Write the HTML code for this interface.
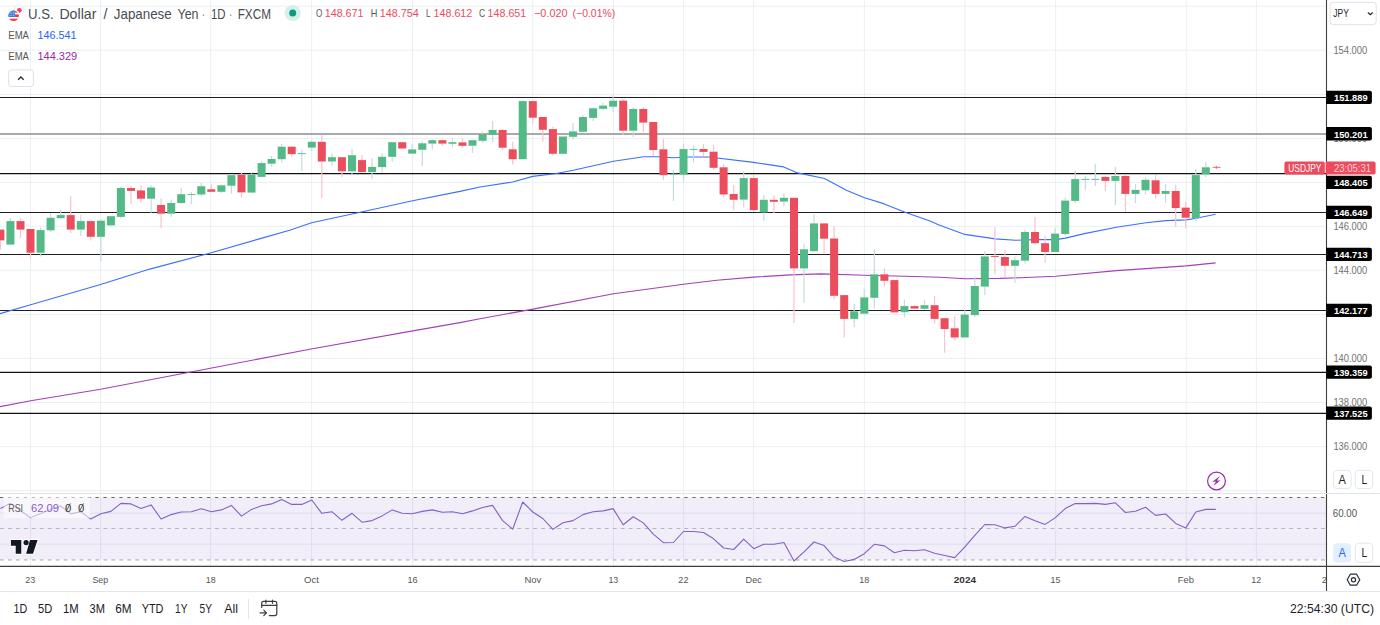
<!DOCTYPE html>
<html><head><meta charset="utf-8"><title>USDJPY chart</title>
<style>html,body{margin:0;padding:0;background:#fff;overflow:hidden}body{width:1380px;height:625px;font-family:"Liberation Sans",sans-serif}</style>
</head><body>
<svg width="1380" height="625" viewBox="0 0 1380 625" style="display:block">
<rect width="1380" height="625" fill="#fff"/>
<path d="M30.5 0V566 M100.6 0V566 M210.6 0V566 M311.6 0V566 M412.6 0V566 M532.8 0V566 M613.5 0V566 M683.6 0V566 M753.6 0V566 M864.4 0V566 M964.9 0V566 M1055.6 0V566 M1186.3 0V566 M1256.4 0V566 M0 6.2H1326.5 M0 50.2H1326.5 M0 94.3H1326.5 M0 138.4H1326.5 M0 182.4H1326.5 M0 226.3H1326.5 M0 270.2H1326.5 M0 314.3H1326.5 M0 358.4H1326.5 M0 402.5H1326.5 M0 446.6H1326.5 M0 513.2H1326.5 M0 544.2H1326.5 M0 490.6H1326.5" stroke="#e6edf4" stroke-width="0.9" fill="none"/>
<rect x="0" y="497.5" width="1326.5" height="62" fill="#7e57c2" fill-opacity="0.105"/>
<path d="M0 493.5H1380" stroke="#e0e3eb" stroke-width="1"/>
<path d="M0 97.5H1326.5" stroke="#202020" stroke-width="1.02"/>
<path d="M0 133.9H1326.5" stroke="#a9a9a9" stroke-width="2"/>
<path d="M0 173.6H1326.5" stroke="#101010" stroke-width="1.15"/>
<path d="M0 212.5H1326.5" stroke="#202020" stroke-width="1.02"/>
<path d="M0 254.4H1326.5" stroke="#202020" stroke-width="1.02"/>
<path d="M0 310.5H1326.5" stroke="#202020" stroke-width="1.02"/>
<path d="M0 372.4H1326.5" stroke="#101010" stroke-width="1.1"/>
<path d="M0 413.4H1326.5" stroke="#101010" stroke-width="1.1"/>
<path d="M0.0 406.6 L30.7 400.8 L100.6 389.3 L210.4 368.2 L311.1 349.0 L412.8 330.9 L460.0 322.6 L480.0 318.8 L533.0 309.1 L613.6 293.8 L683.5 284.2 L716.9 280.2 L753.6 277.1 L790.3 274.9 L821.0 273.9 L864.3 275.2 L914.5 276.5 L940.0 277.3 L964.9 278.8 L1000.0 278.4 L1020.0 277.7 L1055.6 276.2 L1116.5 270.6 L1186.4 265.9 L1215.6 262.9" stroke="#a43fbc" stroke-width="1.1" fill="none" stroke-linejoin="round"/>
<path d="M0.0 313.6 L30.7 304.8 L100.6 284.5 L149.8 269.1 L210.4 253.0 L261.1 238.4 L290.5 230.0 L311.6 222.8 L362.5 211.8 L412.6 200.7 L460.0 191.4 L480.0 187.0 L512.7 182.0 L532.8 176.4 L556.4 173.5 L573.2 170.2 L613.5 161.2 L643.8 156.7 L659.4 156.7 L672.9 157.8 L690.0 157.0 L709.0 157.0 L753.4 162.4 L783.7 166.9 L797.6 172.9 L824.5 178.5 L846.9 190.4 L864.6 197.8 L884.3 203.9 L905.1 212.2 L930.0 221.1 L939.1 225.0 L964.9 234.4 L995.1 238.9 L1015.5 240.3 L1035.9 239.6 L1055.6 239.6 L1065.4 238.1 L1085.6 233.4 L1116.5 227.3 L1146.1 222.8 L1166.0 220.6 L1186.2 219.9 L1196.3 218.3 L1215.6 214.3" stroke="#3d6fff" stroke-width="1.1" fill="none" stroke-linejoin="round"/>
<path d="M0.4 240.4V249.8" stroke="#f9c3ca" stroke-width="1.2"/>
<rect x="-3.6" y="229.6" width="8" height="10.8" fill="#eb4d5c"/>
<path d="M10.4 218.0V221.1" stroke="#c3dbe0" stroke-width="1.2"/>
<rect x="6.4" y="221.1" width="8" height="23.5" fill="#53b987"/>
<path d="M20.5 218.0V221.1" stroke="#f9c3ca" stroke-width="1.2"/>
<path d="M20.5 229.6V237.9" stroke="#f9c3ca" stroke-width="1.2"/>
<rect x="16.5" y="221.1" width="8" height="8.5" fill="#eb4d5c"/>
<path d="M30.5 252.7V258.3" stroke="#f9c3ca" stroke-width="1.2"/>
<rect x="26.5" y="229.0" width="8" height="23.7" fill="#eb4d5c"/>
<path d="M40.6 227.4V230.1" stroke="#c3dbe0" stroke-width="1.2"/>
<path d="M40.6 252.7V256.5" stroke="#c3dbe0" stroke-width="1.2"/>
<rect x="36.6" y="230.1" width="8" height="22.6" fill="#53b987"/>
<path d="M50.6 213.3V217.8" stroke="#c3dbe0" stroke-width="1.2"/>
<path d="M50.6 230.3V231.9" stroke="#c3dbe0" stroke-width="1.2"/>
<rect x="46.6" y="217.8" width="8" height="12.5" fill="#53b987"/>
<path d="M60.7 210.1V215.1" stroke="#c3dbe0" stroke-width="1.2"/>
<path d="M60.7 218.2V219.6" stroke="#c3dbe0" stroke-width="1.2"/>
<rect x="56.7" y="215.1" width="8" height="3.1" fill="#53b987"/>
<path d="M70.7 196.0V215.1" stroke="#f9c3ca" stroke-width="1.2"/>
<path d="M70.7 229.6V233.0" stroke="#f9c3ca" stroke-width="1.2"/>
<rect x="66.7" y="215.1" width="8" height="14.5" fill="#eb4d5c"/>
<path d="M80.8 215.0V221.1" stroke="#c3dbe0" stroke-width="1.2"/>
<path d="M80.8 229.6V235.9" stroke="#c3dbe0" stroke-width="1.2"/>
<rect x="76.8" y="221.1" width="8" height="8.5" fill="#53b987"/>
<path d="M90.8 236.8V240.4" stroke="#f9c3ca" stroke-width="1.2"/>
<rect x="86.8" y="221.1" width="8" height="15.7" fill="#eb4d5c"/>
<path d="M100.9 219.5V220.7" stroke="#c3dbe0" stroke-width="1.2"/>
<path d="M100.9 236.8V261.0" stroke="#c3dbe0" stroke-width="1.2"/>
<rect x="96.9" y="220.7" width="8" height="16.1" fill="#53b987"/>
<path d="M110.9 225.4V226.3" stroke="#c3dbe0" stroke-width="1.2"/>
<rect x="106.9" y="216.2" width="8" height="9.2" fill="#53b987"/>
<path d="M120.9 186.6V188.0" stroke="#c3dbe0" stroke-width="1.2"/>
<path d="M120.9 216.9V218.4" stroke="#c3dbe0" stroke-width="1.2"/>
<rect x="116.9" y="188.0" width="8" height="28.9" fill="#53b987"/>
<path d="M131.0 185.9V188.0" stroke="#f9c3ca" stroke-width="1.2"/>
<path d="M131.0 190.9V203.9" stroke="#f9c3ca" stroke-width="1.2"/>
<rect x="127.0" y="188.0" width="8" height="2.9" fill="#eb4d5c"/>
<path d="M141.0 185.3V190.4" stroke="#f9c3ca" stroke-width="1.2"/>
<path d="M141.0 198.7V203.2" stroke="#f9c3ca" stroke-width="1.2"/>
<rect x="137.0" y="190.4" width="8" height="8.3" fill="#eb4d5c"/>
<path d="M151.1 185.3V187.5" stroke="#c3dbe0" stroke-width="1.2"/>
<path d="M151.1 198.7V212.8" stroke="#c3dbe0" stroke-width="1.2"/>
<rect x="147.1" y="187.5" width="8" height="11.2" fill="#53b987"/>
<path d="M161.1 198.3V205.0" stroke="#f9c3ca" stroke-width="1.2"/>
<path d="M161.1 213.7V228.0" stroke="#f9c3ca" stroke-width="1.2"/>
<rect x="157.1" y="205.0" width="8" height="8.7" fill="#eb4d5c"/>
<path d="M171.2 199.4V203.0" stroke="#c3dbe0" stroke-width="1.2"/>
<path d="M171.2 213.7V216.9" stroke="#c3dbe0" stroke-width="1.2"/>
<rect x="167.2" y="203.0" width="8" height="10.7" fill="#53b987"/>
<path d="M181.2 187.7V194.2" stroke="#c3dbe0" stroke-width="1.2"/>
<path d="M181.2 203.0V203.9" stroke="#c3dbe0" stroke-width="1.2"/>
<rect x="177.2" y="194.2" width="8" height="8.8" fill="#53b987"/>
<path d="M191.3 192.0V194.0" stroke="#c3dbe0" stroke-width="1.2"/>
<path d="M191.3 194.9V203.9" stroke="#c3dbe0" stroke-width="1.2"/>
<rect x="187.3" y="194.0" width="8" height="0.9" fill="#53b987"/>
<path d="M201.3 183.0V186.2" stroke="#c3dbe0" stroke-width="1.2"/>
<path d="M201.3 194.5V196.5" stroke="#c3dbe0" stroke-width="1.2"/>
<rect x="197.3" y="186.2" width="8" height="8.3" fill="#53b987"/>
<path d="M211.3 184.8V189.3" stroke="#f9c3ca" stroke-width="1.2"/>
<path d="M211.3 191.8V192.2" stroke="#f9c3ca" stroke-width="1.2"/>
<rect x="207.3" y="189.3" width="8" height="2.5" fill="#eb4d5c"/>
<path d="M221.4 184.4V185.3" stroke="#c3dbe0" stroke-width="1.2"/>
<path d="M221.4 191.8V193.1" stroke="#c3dbe0" stroke-width="1.2"/>
<rect x="217.4" y="185.3" width="8" height="6.5" fill="#53b987"/>
<path d="M231.4 174.0V175.2" stroke="#c3dbe0" stroke-width="1.2"/>
<path d="M231.4 185.7V193.8" stroke="#c3dbe0" stroke-width="1.2"/>
<rect x="227.4" y="175.2" width="8" height="10.5" fill="#53b987"/>
<path d="M241.5 172.9V174.7" stroke="#f9c3ca" stroke-width="1.2"/>
<path d="M241.5 192.4V197.6" stroke="#f9c3ca" stroke-width="1.2"/>
<rect x="237.5" y="174.7" width="8" height="17.7" fill="#eb4d5c"/>
<path d="M251.5 173.4V174.7" stroke="#c3dbe0" stroke-width="1.2"/>
<rect x="247.5" y="174.7" width="8" height="17.9" fill="#53b987"/>
<path d="M261.6 161.3V163.1" stroke="#c3dbe0" stroke-width="1.2"/>
<path d="M261.6 176.9V177.4" stroke="#c3dbe0" stroke-width="1.2"/>
<rect x="257.6" y="163.1" width="8" height="13.8" fill="#53b987"/>
<path d="M271.6 156.1V159.0" stroke="#c3dbe0" stroke-width="1.2"/>
<path d="M271.6 163.7V166.9" stroke="#c3dbe0" stroke-width="1.2"/>
<rect x="267.6" y="159.0" width="8" height="4.7" fill="#53b987"/>
<path d="M281.7 144.0V146.7" stroke="#c3dbe0" stroke-width="1.2"/>
<path d="M281.7 159.2V162.8" stroke="#c3dbe0" stroke-width="1.2"/>
<rect x="277.7" y="146.7" width="8" height="12.5" fill="#53b987"/>
<path d="M291.7 146.0V146.7" stroke="#f9c3ca" stroke-width="1.2"/>
<path d="M291.7 154.1V157.0" stroke="#f9c3ca" stroke-width="1.2"/>
<rect x="287.7" y="146.7" width="8" height="7.4" fill="#eb4d5c"/>
<path d="M301.8 149.4V153.2" stroke="#c3dbe0" stroke-width="1.2"/>
<path d="M301.8 154.1V170.9" stroke="#c3dbe0" stroke-width="1.2"/>
<rect x="297.8" y="153.2" width="8" height="0.9" fill="#53b987"/>
<path d="M311.8 140.6V141.8" stroke="#c3dbe0" stroke-width="1.2"/>
<path d="M311.8 147.6V151.2" stroke="#c3dbe0" stroke-width="1.2"/>
<rect x="307.8" y="141.8" width="8" height="5.8" fill="#53b987"/>
<path d="M321.8 134.8V141.8" stroke="#f9c3ca" stroke-width="1.2"/>
<path d="M321.8 161.5V198.0" stroke="#f9c3ca" stroke-width="1.2"/>
<rect x="317.8" y="141.8" width="8" height="19.7" fill="#eb4d5c"/>
<path d="M331.9 153.2V157.2" stroke="#c3dbe0" stroke-width="1.2"/>
<path d="M331.9 161.5V165.7" stroke="#c3dbe0" stroke-width="1.2"/>
<rect x="327.9" y="157.2" width="8" height="4.3" fill="#53b987"/>
<path d="M341.9 171.3V176.9" stroke="#f9c3ca" stroke-width="1.2"/>
<rect x="337.9" y="157.2" width="8" height="14.1" fill="#eb4d5c"/>
<path d="M352.0 148.7V155.2" stroke="#c3dbe0" stroke-width="1.2"/>
<path d="M352.0 171.3V174.0" stroke="#c3dbe0" stroke-width="1.2"/>
<rect x="348.0" y="155.2" width="8" height="16.1" fill="#53b987"/>
<path d="M362.0 155.0V160.1" stroke="#f9c3ca" stroke-width="1.2"/>
<path d="M362.0 172.0V172.5" stroke="#f9c3ca" stroke-width="1.2"/>
<rect x="358.0" y="160.1" width="8" height="11.9" fill="#eb4d5c"/>
<path d="M372.1 158.3V166.9" stroke="#c3dbe0" stroke-width="1.2"/>
<path d="M372.1 172.0V179.0" stroke="#c3dbe0" stroke-width="1.2"/>
<rect x="368.1" y="166.9" width="8" height="5.1" fill="#53b987"/>
<path d="M382.1 153.2V156.8" stroke="#c3dbe0" stroke-width="1.2"/>
<path d="M382.1 167.1V172.5" stroke="#c3dbe0" stroke-width="1.2"/>
<rect x="378.1" y="156.8" width="8" height="10.3" fill="#53b987"/>
<path d="M392.2 141.8V142.2" stroke="#c3dbe0" stroke-width="1.2"/>
<path d="M392.2 156.8V161.7" stroke="#c3dbe0" stroke-width="1.2"/>
<rect x="388.2" y="142.2" width="8" height="14.6" fill="#53b987"/>
<path d="M402.2 148.5V149.6" stroke="#f9c3ca" stroke-width="1.2"/>
<rect x="398.2" y="142.2" width="8" height="6.3" fill="#eb4d5c"/>
<path d="M412.2 143.8V149.4" stroke="#c3dbe0" stroke-width="1.2"/>
<path d="M412.2 153.6V154.1" stroke="#c3dbe0" stroke-width="1.2"/>
<rect x="408.2" y="149.4" width="8" height="4.2" fill="#53b987"/>
<path d="M422.3 141.5V143.3" stroke="#c3dbe0" stroke-width="1.2"/>
<path d="M422.3 149.8V165.7" stroke="#c3dbe0" stroke-width="1.2"/>
<rect x="418.3" y="143.3" width="8" height="6.5" fill="#53b987"/>
<path d="M432.3 139.3V140.2" stroke="#c3dbe0" stroke-width="1.2"/>
<path d="M432.3 143.6V149.4" stroke="#c3dbe0" stroke-width="1.2"/>
<rect x="428.3" y="140.2" width="8" height="3.4" fill="#53b987"/>
<path d="M442.4 139.7V140.2" stroke="#f9c3ca" stroke-width="1.2"/>
<path d="M442.4 143.6V146.0" stroke="#f9c3ca" stroke-width="1.2"/>
<rect x="438.4" y="140.2" width="8" height="3.4" fill="#eb4d5c"/>
<path d="M452.4 138.2V142.2" stroke="#c3dbe0" stroke-width="1.2"/>
<path d="M452.4 143.8V147.1" stroke="#c3dbe0" stroke-width="1.2"/>
<rect x="448.4" y="142.2" width="8" height="1.6" fill="#53b987"/>
<path d="M462.5 138.9V142.4" stroke="#f9c3ca" stroke-width="1.2"/>
<path d="M462.5 145.8V147.8" stroke="#f9c3ca" stroke-width="1.2"/>
<rect x="458.5" y="142.4" width="8" height="3.4" fill="#eb4d5c"/>
<path d="M472.5 139.7V140.2" stroke="#c3dbe0" stroke-width="1.2"/>
<path d="M472.5 145.7V152.9" stroke="#c3dbe0" stroke-width="1.2"/>
<rect x="468.5" y="140.2" width="8" height="5.5" fill="#53b987"/>
<path d="M482.6 131.4V134.3" stroke="#c3dbe0" stroke-width="1.2"/>
<path d="M482.6 140.8V142.8" stroke="#c3dbe0" stroke-width="1.2"/>
<rect x="478.6" y="134.3" width="8" height="6.5" fill="#53b987"/>
<path d="M492.6 120.9V130.0" stroke="#c3dbe0" stroke-width="1.2"/>
<path d="M492.6 134.7V141.9" stroke="#c3dbe0" stroke-width="1.2"/>
<rect x="488.6" y="130.0" width="8" height="4.7" fill="#53b987"/>
<path d="M502.6 129.1V130.0" stroke="#f9c3ca" stroke-width="1.2"/>
<path d="M502.6 147.7V150.0" stroke="#f9c3ca" stroke-width="1.2"/>
<rect x="498.6" y="130.0" width="8" height="17.7" fill="#eb4d5c"/>
<path d="M512.7 141.7V149.3" stroke="#f9c3ca" stroke-width="1.2"/>
<path d="M512.7 159.2V164.6" stroke="#f9c3ca" stroke-width="1.2"/>
<rect x="508.7" y="149.3" width="8" height="9.9" fill="#eb4d5c"/>
<rect x="518.7" y="101.1" width="8" height="58.1" fill="#53b987"/>
<path d="M532.8 117.7V123.5" stroke="#f9c3ca" stroke-width="1.2"/>
<rect x="528.8" y="101.1" width="8" height="16.6" fill="#eb4d5c"/>
<path d="M542.8 129.8V141.5" stroke="#f9c3ca" stroke-width="1.2"/>
<rect x="538.8" y="117.0" width="8" height="12.8" fill="#eb4d5c"/>
<path d="M552.9 126.7V129.1" stroke="#f9c3ca" stroke-width="1.2"/>
<path d="M552.9 153.8V155.6" stroke="#f9c3ca" stroke-width="1.2"/>
<rect x="548.9" y="129.1" width="8" height="24.7" fill="#eb4d5c"/>
<rect x="558.9" y="136.5" width="8" height="17.3" fill="#53b987"/>
<path d="M573.0 123.1V131.4" stroke="#c3dbe0" stroke-width="1.2"/>
<path d="M573.0 136.8V139.5" stroke="#c3dbe0" stroke-width="1.2"/>
<rect x="569.0" y="131.4" width="8" height="5.4" fill="#53b987"/>
<path d="M583.0 114.8V117.0" stroke="#c3dbe0" stroke-width="1.2"/>
<rect x="579.0" y="117.0" width="8" height="14.8" fill="#53b987"/>
<path d="M593.1 107.4V108.3" stroke="#c3dbe0" stroke-width="1.2"/>
<path d="M593.1 117.9V121.3" stroke="#c3dbe0" stroke-width="1.2"/>
<rect x="589.1" y="108.3" width="8" height="9.6" fill="#53b987"/>
<path d="M603.1 102.9V105.6" stroke="#c3dbe0" stroke-width="1.2"/>
<path d="M603.1 108.8V110.8" stroke="#c3dbe0" stroke-width="1.2"/>
<rect x="599.1" y="105.6" width="8" height="3.2" fill="#53b987"/>
<path d="M613.1 95.1V100.7" stroke="#c3dbe0" stroke-width="1.2"/>
<path d="M613.1 106.7V111.9" stroke="#c3dbe0" stroke-width="1.2"/>
<rect x="609.1" y="100.7" width="8" height="6.0" fill="#53b987"/>
<path d="M623.2 98.9V100.7" stroke="#f9c3ca" stroke-width="1.2"/>
<path d="M623.2 130.7V134.7" stroke="#f9c3ca" stroke-width="1.2"/>
<rect x="619.2" y="100.7" width="8" height="30.0" fill="#eb4d5c"/>
<path d="M633.2 107.0V109.0" stroke="#c3dbe0" stroke-width="1.2"/>
<path d="M633.2 130.7V137.0" stroke="#c3dbe0" stroke-width="1.2"/>
<rect x="629.2" y="109.0" width="8" height="21.7" fill="#53b987"/>
<path d="M643.3 107.0V109.0" stroke="#f9c3ca" stroke-width="1.2"/>
<path d="M643.3 122.6V132.1" stroke="#f9c3ca" stroke-width="1.2"/>
<rect x="639.3" y="109.0" width="8" height="13.6" fill="#eb4d5c"/>
<path d="M653.3 150.0V156.3" stroke="#f9c3ca" stroke-width="1.2"/>
<rect x="649.3" y="122.0" width="8" height="28.0" fill="#eb4d5c"/>
<path d="M663.4 138.8V149.3" stroke="#f9c3ca" stroke-width="1.2"/>
<path d="M663.4 175.1V179.8" stroke="#f9c3ca" stroke-width="1.2"/>
<rect x="659.4" y="149.3" width="8" height="25.8" fill="#eb4d5c"/>
<path d="M673.4 169.7V173.7" stroke="#c3dbe0" stroke-width="1.2"/>
<path d="M673.4 174.6V200.9" stroke="#c3dbe0" stroke-width="1.2"/>
<rect x="669.4" y="173.7" width="8" height="0.9" fill="#53b987"/>
<path d="M683.5 143.7V149.1" stroke="#c3dbe0" stroke-width="1.2"/>
<path d="M683.5 174.6V181.8" stroke="#c3dbe0" stroke-width="1.2"/>
<rect x="679.5" y="149.1" width="8" height="25.5" fill="#53b987"/>
<path d="M693.5 145.3V148.9" stroke="#c3dbe0" stroke-width="1.2"/>
<path d="M693.5 149.8V162.6" stroke="#c3dbe0" stroke-width="1.2"/>
<rect x="689.5" y="148.9" width="8" height="0.9" fill="#53b987"/>
<path d="M703.5 144.0V149.0" stroke="#f9c3ca" stroke-width="1.2"/>
<path d="M703.5 151.9V156.1" stroke="#f9c3ca" stroke-width="1.2"/>
<rect x="699.5" y="149.0" width="8" height="2.9" fill="#eb4d5c"/>
<path d="M713.6 144.9V151.7" stroke="#f9c3ca" stroke-width="1.2"/>
<path d="M713.6 167.8V169.8" stroke="#f9c3ca" stroke-width="1.2"/>
<rect x="709.6" y="151.7" width="8" height="16.1" fill="#eb4d5c"/>
<path d="M723.6 164.2V167.3" stroke="#f9c3ca" stroke-width="1.2"/>
<path d="M723.6 194.5V197.6" stroke="#f9c3ca" stroke-width="1.2"/>
<rect x="719.6" y="167.3" width="8" height="27.2" fill="#eb4d5c"/>
<path d="M733.7 184.8V194.0" stroke="#f9c3ca" stroke-width="1.2"/>
<path d="M733.7 199.8V210.6" stroke="#f9c3ca" stroke-width="1.2"/>
<rect x="729.7" y="194.0" width="8" height="5.8" fill="#eb4d5c"/>
<path d="M743.7 171.4V178.1" stroke="#c3dbe0" stroke-width="1.2"/>
<path d="M743.7 199.6V207.2" stroke="#c3dbe0" stroke-width="1.2"/>
<rect x="739.7" y="178.1" width="8" height="21.5" fill="#53b987"/>
<path d="M753.8 174.7V178.1" stroke="#f9c3ca" stroke-width="1.2"/>
<path d="M753.8 210.1V211.7" stroke="#f9c3ca" stroke-width="1.2"/>
<rect x="749.8" y="178.1" width="8" height="32.0" fill="#eb4d5c"/>
<path d="M763.8 194.9V199.8" stroke="#c3dbe0" stroke-width="1.2"/>
<path d="M763.8 212.4V220.7" stroke="#c3dbe0" stroke-width="1.2"/>
<rect x="759.8" y="199.8" width="8" height="12.6" fill="#53b987"/>
<path d="M773.9 195.4V199.8" stroke="#f9c3ca" stroke-width="1.2"/>
<path d="M773.9 201.8V213.3" stroke="#f9c3ca" stroke-width="1.2"/>
<rect x="769.9" y="199.8" width="8" height="2.0" fill="#eb4d5c"/>
<path d="M783.9 193.3V197.8" stroke="#c3dbe0" stroke-width="1.2"/>
<path d="M783.9 201.6V206.6" stroke="#c3dbe0" stroke-width="1.2"/>
<rect x="779.9" y="197.8" width="8" height="3.8" fill="#53b987"/>
<path d="M794.0 268.4V322.9" stroke="#f9c3ca" stroke-width="1.2"/>
<rect x="790.0" y="197.8" width="8" height="70.6" fill="#eb4d5c"/>
<path d="M804.0 243.7V249.3" stroke="#c3dbe0" stroke-width="1.2"/>
<path d="M804.0 268.4V302.8" stroke="#c3dbe0" stroke-width="1.2"/>
<rect x="800.0" y="249.3" width="8" height="19.1" fill="#53b987"/>
<path d="M814.0 214.0V223.4" stroke="#c3dbe0" stroke-width="1.2"/>
<path d="M814.0 251.1V251.9" stroke="#c3dbe0" stroke-width="1.2"/>
<rect x="810.0" y="223.4" width="8" height="27.7" fill="#53b987"/>
<path d="M824.1 238.7V253.4" stroke="#f9c3ca" stroke-width="1.2"/>
<rect x="820.1" y="223.4" width="8" height="15.3" fill="#eb4d5c"/>
<path d="M834.1 226.2V238.5" stroke="#f9c3ca" stroke-width="1.2"/>
<path d="M834.1 295.8V299.6" stroke="#f9c3ca" stroke-width="1.2"/>
<rect x="830.1" y="238.5" width="8" height="57.3" fill="#eb4d5c"/>
<path d="M844.2 318.9V337.5" stroke="#f9c3ca" stroke-width="1.2"/>
<rect x="840.2" y="295.1" width="8" height="23.8" fill="#eb4d5c"/>
<path d="M854.2 303.9V311.3" stroke="#c3dbe0" stroke-width="1.2"/>
<path d="M854.2 318.9V327.0" stroke="#c3dbe0" stroke-width="1.2"/>
<rect x="850.2" y="311.3" width="8" height="7.6" fill="#53b987"/>
<path d="M864.3 288.9V297.4" stroke="#c3dbe0" stroke-width="1.2"/>
<path d="M864.3 313.7V314.2" stroke="#c3dbe0" stroke-width="1.2"/>
<rect x="860.3" y="297.4" width="8" height="16.3" fill="#53b987"/>
<path d="M874.3 249.2V274.3" stroke="#c3dbe0" stroke-width="1.2"/>
<path d="M874.3 297.8V308.6" stroke="#c3dbe0" stroke-width="1.2"/>
<rect x="870.3" y="274.3" width="8" height="23.5" fill="#53b987"/>
<path d="M884.4 268.1V274.3" stroke="#f9c3ca" stroke-width="1.2"/>
<path d="M884.4 280.8V286.6" stroke="#f9c3ca" stroke-width="1.2"/>
<rect x="880.4" y="274.3" width="8" height="6.5" fill="#eb4d5c"/>
<path d="M894.4 279.4V280.1" stroke="#f9c3ca" stroke-width="1.2"/>
<rect x="890.4" y="280.1" width="8" height="32.3" fill="#eb4d5c"/>
<path d="M904.4 299.4V306.1" stroke="#c3dbe0" stroke-width="1.2"/>
<path d="M904.4 312.2V317.3" stroke="#c3dbe0" stroke-width="1.2"/>
<rect x="900.4" y="306.1" width="8" height="6.1" fill="#53b987"/>
<path d="M914.5 304.6V306.1" stroke="#f9c3ca" stroke-width="1.2"/>
<rect x="910.5" y="306.1" width="8" height="2.5" fill="#eb4d5c"/>
<path d="M924.5 300.3V305.2" stroke="#c3dbe0" stroke-width="1.2"/>
<path d="M924.5 308.8V309.7" stroke="#c3dbe0" stroke-width="1.2"/>
<rect x="920.5" y="305.2" width="8" height="3.6" fill="#53b987"/>
<path d="M934.6 296.3V305.2" stroke="#f9c3ca" stroke-width="1.2"/>
<path d="M934.6 318.9V323.6" stroke="#f9c3ca" stroke-width="1.2"/>
<rect x="930.6" y="305.2" width="8" height="13.7" fill="#eb4d5c"/>
<path d="M944.6 329.0V352.7" stroke="#f9c3ca" stroke-width="1.2"/>
<rect x="940.6" y="318.2" width="8" height="10.8" fill="#eb4d5c"/>
<path d="M954.7 315.8V328.3" stroke="#f9c3ca" stroke-width="1.2"/>
<path d="M954.7 337.5V340.4" stroke="#f9c3ca" stroke-width="1.2"/>
<rect x="950.7" y="328.3" width="8" height="9.2" fill="#eb4d5c"/>
<path d="M964.7 310.2V314.6" stroke="#c3dbe0" stroke-width="1.2"/>
<rect x="960.7" y="314.6" width="8" height="22.9" fill="#53b987"/>
<path d="M974.8 276.5V286.0" stroke="#c3dbe0" stroke-width="1.2"/>
<path d="M974.8 315.1V316.9" stroke="#c3dbe0" stroke-width="1.2"/>
<rect x="970.8" y="286.0" width="8" height="29.1" fill="#53b987"/>
<path d="M984.8 251.2V256.4" stroke="#c3dbe0" stroke-width="1.2"/>
<path d="M984.8 286.6V294.9" stroke="#c3dbe0" stroke-width="1.2"/>
<rect x="980.8" y="256.4" width="8" height="30.2" fill="#53b987"/>
<path d="M994.9 227.2V256.1" stroke="#f9c3ca" stroke-width="1.2"/>
<path d="M994.9 257.0V274.3" stroke="#f9c3ca" stroke-width="1.2"/>
<rect x="990.9" y="256.1" width="8" height="0.9" fill="#eb4d5c"/>
<path d="M1004.9 250.1V257.0" stroke="#f9c3ca" stroke-width="1.2"/>
<path d="M1004.9 265.8V277.4" stroke="#f9c3ca" stroke-width="1.2"/>
<rect x="1000.9" y="257.0" width="8" height="8.8" fill="#eb4d5c"/>
<path d="M1014.9 256.4V260.2" stroke="#c3dbe0" stroke-width="1.2"/>
<path d="M1014.9 265.8V282.7" stroke="#c3dbe0" stroke-width="1.2"/>
<rect x="1010.9" y="260.2" width="8" height="5.6" fill="#53b987"/>
<path d="M1025.0 230.0V232.0" stroke="#c3dbe0" stroke-width="1.2"/>
<path d="M1025.0 260.7V263.6" stroke="#c3dbe0" stroke-width="1.2"/>
<rect x="1021.0" y="232.0" width="8" height="28.7" fill="#53b987"/>
<path d="M1035.0 216.8V232.0" stroke="#f9c3ca" stroke-width="1.2"/>
<path d="M1035.0 243.2V244.1" stroke="#f9c3ca" stroke-width="1.2"/>
<rect x="1031.0" y="232.0" width="8" height="11.2" fill="#eb4d5c"/>
<path d="M1045.1 235.6V243.2" stroke="#f9c3ca" stroke-width="1.2"/>
<path d="M1045.1 252.0V262.7" stroke="#f9c3ca" stroke-width="1.2"/>
<rect x="1041.1" y="243.2" width="8" height="8.8" fill="#eb4d5c"/>
<path d="M1055.1 227.8V233.6" stroke="#c3dbe0" stroke-width="1.2"/>
<rect x="1051.1" y="233.6" width="8" height="18.4" fill="#53b987"/>
<path d="M1065.2 197.5V200.6" stroke="#c3dbe0" stroke-width="1.2"/>
<path d="M1065.2 234.0V235.8" stroke="#c3dbe0" stroke-width="1.2"/>
<rect x="1061.2" y="200.6" width="8" height="33.4" fill="#53b987"/>
<path d="M1075.2 170.8V179.1" stroke="#c3dbe0" stroke-width="1.2"/>
<path d="M1075.2 200.9V203.1" stroke="#c3dbe0" stroke-width="1.2"/>
<rect x="1071.2" y="179.1" width="8" height="21.8" fill="#53b987"/>
<path d="M1085.3 175.8V178.9" stroke="#c3dbe0" stroke-width="1.2"/>
<path d="M1085.3 179.8V189.9" stroke="#c3dbe0" stroke-width="1.2"/>
<rect x="1081.3" y="178.9" width="8" height="0.9" fill="#53b987"/>
<path d="M1095.3 164.1V178.9" stroke="#c3dbe0" stroke-width="1.2"/>
<path d="M1095.3 179.8V185.9" stroke="#c3dbe0" stroke-width="1.2"/>
<rect x="1091.3" y="178.9" width="8" height="0.9" fill="#53b987"/>
<path d="M1105.4 175.8V176.9" stroke="#f9c3ca" stroke-width="1.2"/>
<path d="M1105.4 180.9V191.0" stroke="#f9c3ca" stroke-width="1.2"/>
<rect x="1101.4" y="176.9" width="8" height="4.0" fill="#eb4d5c"/>
<path d="M1115.4 166.8V176.0" stroke="#c3dbe0" stroke-width="1.2"/>
<path d="M1115.4 180.9V204.9" stroke="#c3dbe0" stroke-width="1.2"/>
<rect x="1111.4" y="176.0" width="8" height="4.9" fill="#53b987"/>
<path d="M1125.4 174.2V176.0" stroke="#f9c3ca" stroke-width="1.2"/>
<path d="M1125.4 193.9V211.6" stroke="#f9c3ca" stroke-width="1.2"/>
<rect x="1121.4" y="176.0" width="8" height="17.9" fill="#eb4d5c"/>
<path d="M1135.5 184.1V189.9" stroke="#c3dbe0" stroke-width="1.2"/>
<path d="M1135.5 193.9V203.1" stroke="#c3dbe0" stroke-width="1.2"/>
<rect x="1131.5" y="189.9" width="8" height="4.0" fill="#53b987"/>
<path d="M1145.5 177.3V179.8" stroke="#c3dbe0" stroke-width="1.2"/>
<path d="M1145.5 190.3V194.8" stroke="#c3dbe0" stroke-width="1.2"/>
<rect x="1141.5" y="179.8" width="8" height="10.5" fill="#53b987"/>
<path d="M1155.6 175.1V180.3" stroke="#f9c3ca" stroke-width="1.2"/>
<path d="M1155.6 193.9V198.6" stroke="#f9c3ca" stroke-width="1.2"/>
<rect x="1151.6" y="180.3" width="8" height="13.6" fill="#eb4d5c"/>
<path d="M1165.6 184.1V191.0" stroke="#c3dbe0" stroke-width="1.2"/>
<path d="M1165.6 193.9V202.7" stroke="#c3dbe0" stroke-width="1.2"/>
<rect x="1161.6" y="191.0" width="8" height="2.9" fill="#53b987"/>
<path d="M1175.7 184.7V191.0" stroke="#f9c3ca" stroke-width="1.2"/>
<path d="M1175.7 208.0V226.6" stroke="#f9c3ca" stroke-width="1.2"/>
<rect x="1171.7" y="191.0" width="8" height="17.0" fill="#eb4d5c"/>
<path d="M1185.7 202.0V207.6" stroke="#f9c3ca" stroke-width="1.2"/>
<path d="M1185.7 217.7V228.4" stroke="#f9c3ca" stroke-width="1.2"/>
<rect x="1181.7" y="207.6" width="8" height="10.1" fill="#eb4d5c"/>
<path d="M1195.8 169.0V175.1" stroke="#c3dbe0" stroke-width="1.2"/>
<path d="M1195.8 218.1V221.3" stroke="#c3dbe0" stroke-width="1.2"/>
<rect x="1191.8" y="175.1" width="8" height="43.0" fill="#53b987"/>
<path d="M1205.8 161.9V167.3" stroke="#c3dbe0" stroke-width="1.2"/>
<path d="M1205.8 174.4V176.9" stroke="#c3dbe0" stroke-width="1.2"/>
<rect x="1201.8" y="167.3" width="8" height="7.1" fill="#53b987"/>
<path d="M1215.8 166.1V166.8" stroke="#f9c3ca" stroke-width="1.2"/>
<path d="M1215.8 167.6V168.6" stroke="#f9c3ca" stroke-width="1.2"/>
<path d="M1216.5 165.9V168.9" stroke="#eb4d5c" stroke-width="1" opacity="0.6"/>
<path d="M1212.6 167.3H1220.6" stroke="#eb4d5c" stroke-width="1" opacity="0.85"/>
<path d="M0 497.5H1326.5" stroke="#606060" stroke-width="0.95" stroke-dasharray="3.25 4.708" stroke-dashoffset="0"/>
<path d="M0 528.5H1326.5" stroke="#b0b0b4" stroke-width="0.9" stroke-dasharray="3.9 4.058" stroke-dashoffset="0"/>
<path d="M0 559.9H1326.5" stroke="#c9c9cd" stroke-width="1.8" stroke-dasharray="3.7 4.258" stroke-dashoffset="0"/>
<path d="M0.4 508.6 L10.4 503.2 L20.5 510.7 L30.5 517.7 L40.6 513.4 L50.6 509.4 L60.7 506.0 L70.7 513.9 L80.8 511.7 L90.8 519.0 L100.9 513.8 L110.9 511.4 L120.9 503.4 L131.0 503.9 L141.0 508.6 L151.1 504.9 L161.1 519.0 L171.2 514.6 L181.2 512.0 L191.3 511.7 L201.3 508.8 L211.3 511.7 L221.4 509.9 L231.4 505.4 L241.5 516.1 L251.5 509.4 L261.6 505.7 L271.6 503.9 L281.7 499.4 L291.7 504.4 L301.8 504.4 L311.8 500.0 L321.8 513.3 L331.9 511.7 L341.9 520.3 L352.0 513.3 L362.0 522.2 L372.1 520.6 L382.1 515.9 L392.2 509.9 L402.2 513.3 L412.2 513.8 L422.3 511.4 L432.3 509.9 L442.4 512.2 L452.4 511.7 L462.5 513.8 L472.5 510.9 L482.6 507.5 L492.6 505.4 L502.6 520.6 L512.7 529.2 L522.7 502.0 L532.8 512.0 L542.8 518.5 L552.9 529.4 L562.9 522.7 L573.0 520.6 L583.0 514.6 L593.1 511.7 L603.1 510.9 L613.1 508.6 L623.2 524.7 L633.2 516.7 L643.3 522.9 L653.3 534.1 L663.4 542.7 L673.4 542.5 L683.5 531.5 L693.5 531.5 L703.5 532.5 L713.6 538.8 L723.6 548.0 L733.7 549.5 L743.7 539.1 L753.8 548.7 L763.8 544.3 L773.9 544.3 L783.9 542.5 L794.0 561.0 L804.0 551.9 L814.0 542.0 L824.1 545.6 L834.1 557.1 L844.2 561.5 L854.2 559.4 L864.3 553.7 L874.3 544.3 L884.4 545.9 L894.4 552.7 L904.4 550.3 L914.5 550.8 L924.5 549.8 L934.6 553.2 L944.6 555.5 L954.7 557.6 L964.7 547.2 L974.8 535.4 L984.8 524.5 L994.9 524.7 L1004.9 527.9 L1014.9 526.3 L1025.0 516.4 L1035.0 520.8 L1045.1 524.4 L1055.1 517.9 L1065.2 508.6 L1075.2 503.6 L1085.3 503.6 L1095.3 503.4 L1105.4 504.4 L1115.4 502.8 L1125.4 512.5 L1135.5 511.2 L1145.5 507.3 L1155.6 515.4 L1165.6 514.0 L1175.7 523.4 L1185.7 528.1 L1195.8 512.0 L1205.8 509.4 L1215.8 509.4" stroke="#8561c5" stroke-width="1.1" fill="none" stroke-linejoin="round"/>
<rect x="3.6" y="496.4" width="86.5" height="21.7" fill="#fff" opacity="0.55"/>
<rect x="1326.5" y="0" width="53.5" height="591" fill="#fff"/>
<rect x="0" y="566.8" width="1380" height="24.5" fill="#fff"/>
<path d="M1326.5 0V591.3" stroke="#3e3e3e" stroke-width="1.1"/>
<path d="M0 566.4H1380" stroke="#3e3e3e" stroke-width="1.1"/>
<path d="M0 591.6H1380" stroke="#dfe3ec" stroke-width="1"/>
<path d="M0 493.5H1380" stroke="#e0e3eb" stroke-width="1"/>
<text x="1333.4" y="53.7" font-size="10.3" fill="#707070" font-family="Liberation Sans, sans-serif" textLength="33.8" lengthAdjust="spacingAndGlyphs" >154.000</text>
<text x="1333.4" y="229.86" font-size="10.3" fill="#707070" font-family="Liberation Sans, sans-serif" textLength="33.8" lengthAdjust="spacingAndGlyphs" >146.000</text>
<text x="1333.4" y="273.9" font-size="10.3" fill="#707070" font-family="Liberation Sans, sans-serif" textLength="33.8" lengthAdjust="spacingAndGlyphs" >144.000</text>
<text x="1333.4" y="361.97999999999996" font-size="10.3" fill="#707070" font-family="Liberation Sans, sans-serif" textLength="33.8" lengthAdjust="spacingAndGlyphs" >140.000</text>
<text x="1333.4" y="406.02" font-size="10.3" fill="#707070" font-family="Liberation Sans, sans-serif" textLength="33.8" lengthAdjust="spacingAndGlyphs" >138.000</text>
<text x="1333.4" y="450.06" font-size="10.3" fill="#707070" font-family="Liberation Sans, sans-serif" textLength="33.8" lengthAdjust="spacingAndGlyphs" >136.000</text>
<text x="1333.4" y="141.78" font-size="10.3" fill="#707070" font-family="Liberation Sans, sans-serif" textLength="33.8" lengthAdjust="spacingAndGlyphs" >150.000</text>
<path d="M1326.2 90.7H1369.9a2 2 0 0 1 2 2V101.9a2 2 0 0 1 -2 2H1326.2Z" fill="#000"/>
<text x="1334" y="101.15" font-size="9.7" fill="#fff" font-family="Liberation Sans, sans-serif" textLength="33.6" lengthAdjust="spacingAndGlyphs" font-weight="bold" >151.889</text>
<path d="M1326.2 127.1H1369.9a2 2 0 0 1 2 2V138.4a2 2 0 0 1 -2 2H1326.2Z" fill="#000"/>
<text x="1334" y="137.60000000000002" font-size="9.7" fill="#fff" font-family="Liberation Sans, sans-serif" textLength="33.6" lengthAdjust="spacingAndGlyphs" font-weight="bold" >150.201</text>
<path d="M1326.2 205.7H1369.9a2 2 0 0 1 2 2V217.0a2 2 0 0 1 -2 2H1326.2Z" fill="#000"/>
<text x="1334" y="216.20000000000002" font-size="9.7" fill="#fff" font-family="Liberation Sans, sans-serif" textLength="33.6" lengthAdjust="spacingAndGlyphs" font-weight="bold" >146.649</text>
<path d="M1326.2 247.7H1369.9a2 2 0 0 1 2 2V258.9a2 2 0 0 1 -2 2H1326.2Z" fill="#000"/>
<text x="1334" y="258.15" font-size="9.7" fill="#fff" font-family="Liberation Sans, sans-serif" textLength="33.6" lengthAdjust="spacingAndGlyphs" font-weight="bold" >144.713</text>
<path d="M1326.2 303.7H1369.9a2 2 0 0 1 2 2V314.9a2 2 0 0 1 -2 2H1326.2Z" fill="#000"/>
<text x="1334" y="314.2" font-size="9.7" fill="#fff" font-family="Liberation Sans, sans-serif" textLength="33.6" lengthAdjust="spacingAndGlyphs" font-weight="bold" >142.177</text>
<path d="M1326.2 365.6H1369.9a2 2 0 0 1 2 2V376.8a2 2 0 0 1 -2 2H1326.2Z" fill="#000"/>
<text x="1334" y="376.09999999999997" font-size="9.7" fill="#fff" font-family="Liberation Sans, sans-serif" textLength="33.6" lengthAdjust="spacingAndGlyphs" font-weight="bold" >139.359</text>
<path d="M1326.2 406.6H1369.9a2 2 0 0 1 2 2V417.8a2 2 0 0 1 -2 2H1326.2Z" fill="#000"/>
<text x="1334" y="417.09999999999997" font-size="9.7" fill="#fff" font-family="Liberation Sans, sans-serif" textLength="33.6" lengthAdjust="spacingAndGlyphs" font-weight="bold" >137.525</text>
<path d="M1326.2 175.8H1369.9a2 2 0 0 1 2 2V187.1a2 2 0 0 1 -2 2H1326.2Z" fill="#000"/>
<text x="1334" y="186.3" font-size="9.7" fill="#fff" font-family="Liberation Sans, sans-serif" textLength="33.6" lengthAdjust="spacingAndGlyphs" font-weight="bold" >148.405</text>
<rect x="1284.4" y="161.6" width="40.4" height="13" rx="2" fill="#ee4a5d"/>
<text x="1288.3" y="171.8" font-size="10.2" fill="#fff" font-family="Liberation Sans, sans-serif" textLength="33.0" lengthAdjust="spacingAndGlyphs" >USDJPY</text>
<path d="M1325.7 161.6H1373.6a2 2 0 0 1 2 2V172.6a2 2 0 0 1 -2 2H1325.7Z" fill="#ee4a5d"/>
<text x="1334" y="171.8" font-size="10.2" fill="#fbd3d8" font-family="Liberation Sans, sans-serif" textLength="37.0" lengthAdjust="spacingAndGlyphs" >23:05:31</text>
<rect x="1330.2" y="2.4" width="46" height="22.2" rx="3" fill="#fff" stroke="#e0e3eb" stroke-width="1"/>
<text x="1333.3" y="16.8" font-size="10.7" fill="#1a1d28" font-family="Liberation Sans, sans-serif" textLength="15.5" lengthAdjust="spacingAndGlyphs" >JPY</text>
<path d="M1368.2 12.8L1370.3 14.6L1372.4 12.8" stroke="#222" stroke-width="1.2" fill="none" stroke-linecap="round"/>
<text x="1332.8" y="517" font-size="10.4" fill="#555" font-family="Liberation Sans, sans-serif" textLength="24.3" lengthAdjust="spacingAndGlyphs" >60.00</text>
<rect x="1333.6" y="470.4" width="17.4" height="18.2" rx="3.5" fill="#fff" stroke="#e3e6ee" stroke-width="1"/>
<text x="1338.6" y="484.0" font-size="12.6" fill="#1a1d28" font-family="Liberation Sans, sans-serif" textLength="7.4" lengthAdjust="spacingAndGlyphs" >A</text>
<rect x="1355.3" y="470.4" width="17.4" height="18.2" rx="3.5" fill="#fff" stroke="#e3e6ee" stroke-width="1"/>
<text x="1361.45" y="484.0" font-size="12.6" fill="#1a1d28" font-family="Liberation Sans, sans-serif" textLength="5.7" lengthAdjust="spacingAndGlyphs" >L</text>
<rect x="1333.2" y="543.2" width="17.8" height="19.2" rx="3.5" fill="#e3effd"/>
<text x="1338.4" y="557.3000000000001" font-size="12.6" fill="#2962ff" font-family="Liberation Sans, sans-serif" textLength="7.4" lengthAdjust="spacingAndGlyphs" >A</text>
<rect x="1355.4" y="543.2" width="17.2" height="19.2" rx="3.5" fill="#fff" stroke="#e3e6ee" stroke-width="1"/>
<text x="1361.45" y="557.3000000000001" font-size="12.6" fill="#1a1d28" font-family="Liberation Sans, sans-serif" textLength="5.7" lengthAdjust="spacingAndGlyphs" >L</text>
<text x="25.25" y="582.5" font-size="9.7" fill="#555" font-family="Liberation Sans, sans-serif" textLength="9.9" lengthAdjust="spacingAndGlyphs" >23</text>
<text x="92.45" y="582.5" font-size="9.7" fill="#555" font-family="Liberation Sans, sans-serif" textLength="15.7" lengthAdjust="spacingAndGlyphs" >Sep</text>
<text x="205.85000000000002" y="582.5" font-size="9.7" fill="#555" font-family="Liberation Sans, sans-serif" textLength="9.9" lengthAdjust="spacingAndGlyphs" >18</text>
<text x="304.05" y="582.5" font-size="9.7" fill="#555" font-family="Liberation Sans, sans-serif" textLength="14.9" lengthAdjust="spacingAndGlyphs" >Oct</text>
<text x="407.45" y="582.5" font-size="9.7" fill="#555" font-family="Liberation Sans, sans-serif" textLength="10.1" lengthAdjust="spacingAndGlyphs" >16</text>
<text x="524.4" y="582.5" font-size="9.7" fill="#555" font-family="Liberation Sans, sans-serif" textLength="16.8" lengthAdjust="spacingAndGlyphs" >Nov</text>
<text x="608.4" y="582.5" font-size="9.7" fill="#555" font-family="Liberation Sans, sans-serif" textLength="9.8" lengthAdjust="spacingAndGlyphs" >13</text>
<text x="678.35" y="582.5" font-size="9.7" fill="#555" font-family="Liberation Sans, sans-serif" textLength="10.1" lengthAdjust="spacingAndGlyphs" >22</text>
<text x="745.6" y="582.5" font-size="9.7" fill="#555" font-family="Liberation Sans, sans-serif" textLength="16.2" lengthAdjust="spacingAndGlyphs" >Dec</text>
<text x="859.25" y="582.5" font-size="9.7" fill="#555" font-family="Liberation Sans, sans-serif" textLength="9.9" lengthAdjust="spacingAndGlyphs" >18</text>
<text x="1050.5" y="582.5" font-size="9.7" fill="#555" font-family="Liberation Sans, sans-serif" textLength="9.8" lengthAdjust="spacingAndGlyphs" >15</text>
<text x="1177.8000000000002" y="582.5" font-size="9.7" fill="#555" font-family="Liberation Sans, sans-serif" textLength="16.2" lengthAdjust="spacingAndGlyphs" >Feb</text>
<text x="1251.35" y="582.5" font-size="9.7" fill="#555" font-family="Liberation Sans, sans-serif" textLength="9.9" lengthAdjust="spacingAndGlyphs" >12</text>
<text x="953.8" y="582.5" font-size="9.7" fill="#333" font-family="Liberation Sans, sans-serif" textLength="22.2" lengthAdjust="spacingAndGlyphs" font-weight="bold" >2024</text>
<clipPath id="cp"><rect x="1300" y="567" width="25.90000000000009" height="24"/></clipPath>
<text x="1321.7" y="582.5" font-size="9.7" fill="#555" font-family="Liberation Sans, sans-serif" textLength="10.1" lengthAdjust="spacingAndGlyphs" clip-path="url(#cp)">22</text>
<path d="M1347.2 579.7L1350.3 574.2H1356.6L1359.8 579.7L1356.6 585.2H1350.3Z" fill="none" stroke="#2a2e39" stroke-width="1.2" stroke-linejoin="round"/>
<circle cx="1353.5" cy="579.7" r="2.1" fill="none" stroke="#2a2e39" stroke-width="1.2"/>
<circle cx="19.1" cy="10.3" r="4.9" fill="#fff" stroke="#e6e8f0" stroke-width="0.9"/>
<circle cx="19.3" cy="10.3" r="2.4" fill="#f0445a"/>
<clipPath id="fl"><circle cx="13.6" cy="15.7" r="5.35"/></clipPath>
<circle cx="13.6" cy="15.7" r="6.3" fill="#fff"/>
<g clip-path="url(#fl)"><rect x="8" y="10" width="11.5" height="11.5" fill="#fff"/><rect x="14.8" y="11.1" width="5" height="1.5" fill="#f0413c"/><rect x="14.8" y="14.4" width="5" height="2.6" fill="#f0413c"/><rect x="8" y="18.7" width="11.5" height="2.6" fill="#f0413c"/><rect x="8" y="10" width="6.9" height="7" fill="#2f80ea"/><g fill="#cfe2fb"><rect x="9.6" y="11.6" width="0.8" height="0.8"/><rect x="11.4" y="11.6" width="0.8" height="0.8"/><rect x="13.2" y="11.6" width="0.8" height="0.8"/><rect x="9.6" y="13.3" width="0.8" height="0.8"/><rect x="11.4" y="13.3" width="0.8" height="0.8"/><rect x="13.2" y="13.3" width="0.8" height="0.8"/><rect x="9.6" y="15" width="0.8" height="0.8"/><rect x="11.4" y="15" width="0.8" height="0.8"/><rect x="13.2" y="15" width="0.8" height="0.8"/></g></g>
<text x="28" y="18.8" font-size="14.1" fill="#4a4b50" font-family="Liberation Sans, sans-serif" textLength="25.6" lengthAdjust="spacingAndGlyphs" >U.S.</text>
<text x="59.4" y="18.8" font-size="14.1" fill="#4a4b50" font-family="Liberation Sans, sans-serif" textLength="37.0" lengthAdjust="spacingAndGlyphs" >Dollar</text>
<text x="103.4" y="18.8" font-size="14.1" fill="#4a4b50" font-family="Liberation Sans, sans-serif" >/</text>
<text x="113.8" y="18.8" font-size="14.1" fill="#4a4b50" font-family="Liberation Sans, sans-serif" textLength="57.9" lengthAdjust="spacingAndGlyphs" >Japanese</text>
<text x="177.5" y="18.8" font-size="14.1" fill="#4a4b50" font-family="Liberation Sans, sans-serif" textLength="21.0" lengthAdjust="spacingAndGlyphs" >Yen</text>
<text x="202.3" y="18.8" font-size="14.1" fill="#4a4b50" font-family="Liberation Sans, sans-serif" textLength="2.4" lengthAdjust="spacingAndGlyphs" >·</text>
<text x="211" y="18.8" font-size="14.1" fill="#4a4b50" font-family="Liberation Sans, sans-serif" textLength="14.6" lengthAdjust="spacingAndGlyphs" >1D</text>
<text x="229.6" y="18.8" font-size="14.1" fill="#4a4b50" font-family="Liberation Sans, sans-serif" textLength="2.4" lengthAdjust="spacingAndGlyphs" >·</text>
<text x="237.7" y="18.8" font-size="14.1" fill="#4a4b50" font-family="Liberation Sans, sans-serif" textLength="33.3" lengthAdjust="spacingAndGlyphs" >FXCM</text>
<circle cx="292.7" cy="13" r="8" fill="#d5efe9"/><circle cx="292.7" cy="13" r="3.5" fill="#0a9a82"/>
<text x="316" y="16.9" font-size="10.4" fill="#5a5a5a" font-family="Liberation Sans, sans-serif" textLength="6.4" lengthAdjust="spacingAndGlyphs" >O</text>
<text x="324.7" y="16.9" font-size="10.4" fill="#ee4a5d" font-family="Liberation Sans, sans-serif" textLength="38.8" lengthAdjust="spacingAndGlyphs" >148.671</text>
<text x="370.8" y="16.9" font-size="10.4" fill="#5a5a5a" font-family="Liberation Sans, sans-serif" textLength="6.6" lengthAdjust="spacingAndGlyphs" >H</text>
<text x="379.7" y="16.9" font-size="10.4" fill="#ee4a5d" font-family="Liberation Sans, sans-serif" textLength="39.2" lengthAdjust="spacingAndGlyphs" >148.754</text>
<text x="426" y="16.9" font-size="10.4" fill="#5a5a5a" font-family="Liberation Sans, sans-serif" textLength="4.6" lengthAdjust="spacingAndGlyphs" >L</text>
<text x="433.5" y="16.9" font-size="10.4" fill="#ee4a5d" font-family="Liberation Sans, sans-serif" textLength="38.8" lengthAdjust="spacingAndGlyphs" >148.612</text>
<text x="479" y="16.9" font-size="10.4" fill="#5a5a5a" font-family="Liberation Sans, sans-serif" textLength="6.2" lengthAdjust="spacingAndGlyphs" >C</text>
<text x="487.6" y="16.9" font-size="10.4" fill="#ee4a5d" font-family="Liberation Sans, sans-serif" textLength="38.6" lengthAdjust="spacingAndGlyphs" >148.651</text>
<text x="534" y="16.9" font-size="10.4" fill="#ee4a5d" font-family="Liberation Sans, sans-serif" textLength="33.5" lengthAdjust="spacingAndGlyphs" >−0.020</text>
<text x="572.6" y="16.9" font-size="10.4" fill="#ee4a5d" font-family="Liberation Sans, sans-serif" textLength="42.6" lengthAdjust="spacingAndGlyphs" >(−0.01%)</text>
<text x="8.3" y="38.8" font-size="10.2" fill="#555" font-family="Liberation Sans, sans-serif" textLength="20.7" lengthAdjust="spacingAndGlyphs" >EMA</text>
<text x="37.4" y="38.8" font-size="10.2" fill="#2962ff" font-family="Liberation Sans, sans-serif" textLength="39.1" lengthAdjust="spacingAndGlyphs" >146.541</text>
<text x="8.3" y="59.9" font-size="10.2" fill="#555" font-family="Liberation Sans, sans-serif" textLength="20.7" lengthAdjust="spacingAndGlyphs" >EMA</text>
<text x="37.4" y="59.9" font-size="10.2" fill="#9c27b0" font-family="Liberation Sans, sans-serif" textLength="39.8" lengthAdjust="spacingAndGlyphs" >144.329</text>
<rect x="8.6" y="69.9" width="24.8" height="16.6" rx="2.5" fill="#fff" stroke="#dfe2ea" stroke-width="1"/>
<path d="M18.1 79.8L20.9 77L23.7 79.8" stroke="#2a2e39" stroke-width="1.3" fill="none"/>
<text x="8.2" y="511.7" font-size="10.7" fill="#5c5c60" font-family="Liberation Sans, sans-serif" textLength="14.9" lengthAdjust="spacingAndGlyphs" >RSI</text>
<text x="31.1" y="511.7" font-size="10.7" fill="#8561c5" font-family="Liberation Sans, sans-serif" textLength="27.9" lengthAdjust="spacingAndGlyphs" >62.09</text>
<text x="64.9" y="511.7" font-size="10.7" fill="#3a3a3e" font-family="Liberation Sans, sans-serif" textLength="6.3" lengthAdjust="spacingAndGlyphs" >0</text>
<path d="M66.10000000000001 511.6L70.30000000000001 503.4" stroke="#3a3a3e" stroke-width="0.8"/>
<text x="78.1" y="511.7" font-size="10.7" fill="#3a3a3e" font-family="Liberation Sans, sans-serif" textLength="6.3" lengthAdjust="spacingAndGlyphs" >0</text>
<path d="M79.3 511.6L83.5 503.4" stroke="#3a3a3e" stroke-width="0.8"/>
<g stroke="#fff" stroke-width="2" stroke-linejoin="round" fill="#131722"><path d="M10.9 540H21.3V553.7H15.7V545.7H10.9Z"/><circle cx="26.1" cy="542.6" r="2.6"/><path d="M30 540H37.6L33 553.7H26.1Z"/></g>
<g fill="#131722"><path d="M10.9 540H21.3V553.7H15.7V545.7H10.9Z"/><circle cx="26.1" cy="542.6" r="2.6"/><path d="M30 540H37.6L33 553.7H26.1Z"/></g>
<circle cx="1216.5" cy="481" r="8.9" fill="#fff" stroke="#9c27b0" stroke-width="1.2"/>
<path d="M1219.9 476L1212.1 481.9L1216 481.4L1213.4 486.1L1220.5 480.3L1216.9 480.7Z" fill="#9c27b0"/>
<text x="13.5" y="613.3" font-size="12.9" fill="#1a1d28" font-family="Liberation Sans, sans-serif" textLength="13.7" lengthAdjust="spacingAndGlyphs" >1D</text>
<text x="38" y="613.3" font-size="12.9" fill="#1a1d28" font-family="Liberation Sans, sans-serif" textLength="14.2" lengthAdjust="spacingAndGlyphs" >5D</text>
<text x="63" y="613.3" font-size="12.9" fill="#1a1d28" font-family="Liberation Sans, sans-serif" textLength="15.7" lengthAdjust="spacingAndGlyphs" >1M</text>
<text x="89.6" y="613.3" font-size="12.9" fill="#1a1d28" font-family="Liberation Sans, sans-serif" textLength="15.4" lengthAdjust="spacingAndGlyphs" >3M</text>
<text x="115.2" y="613.3" font-size="12.9" fill="#1a1d28" font-family="Liberation Sans, sans-serif" textLength="16.3" lengthAdjust="spacingAndGlyphs" >6M</text>
<text x="141.7" y="613.3" font-size="12.9" fill="#1a1d28" font-family="Liberation Sans, sans-serif" textLength="21.8" lengthAdjust="spacingAndGlyphs" >YTD</text>
<text x="175" y="613.3" font-size="12.9" fill="#1a1d28" font-family="Liberation Sans, sans-serif" textLength="12.4" lengthAdjust="spacingAndGlyphs" >1Y</text>
<text x="199.6" y="613.3" font-size="12.9" fill="#1a1d28" font-family="Liberation Sans, sans-serif" textLength="12.4" lengthAdjust="spacingAndGlyphs" >5Y</text>
<text x="224.3" y="613.3" font-size="12.9" fill="#1a1d28" font-family="Liberation Sans, sans-serif" textLength="13.7" lengthAdjust="spacingAndGlyphs" >All</text>
<path d="M248.5 599V619" stroke="#e0e3eb" stroke-width="1"/>
<g fill="none" stroke="#3a3d46" stroke-width="1.2" stroke-linecap="round" stroke-linejoin="round"><path d="M261.7 607.4V603.4a2 2 0 0 1 2 -2H274.8a2 2 0 0 1 2 2V613.6a2 2 0 0 1 -2 2H269.3"/><path d="M261.7 605.4H276.8M265.9 600V603.2M272.5 600V603.2"/><path d="M260.2 612.9H266.2M263.8 610.2L266.5 612.9L263.8 615.6"/></g>
<text x="1290" y="613.3" font-size="12.2" fill="#1a1d28" font-family="Liberation Sans, sans-serif" textLength="84.0" lengthAdjust="spacingAndGlyphs" >22:54:30 (UTC)</text>
</svg>
</body></html>
